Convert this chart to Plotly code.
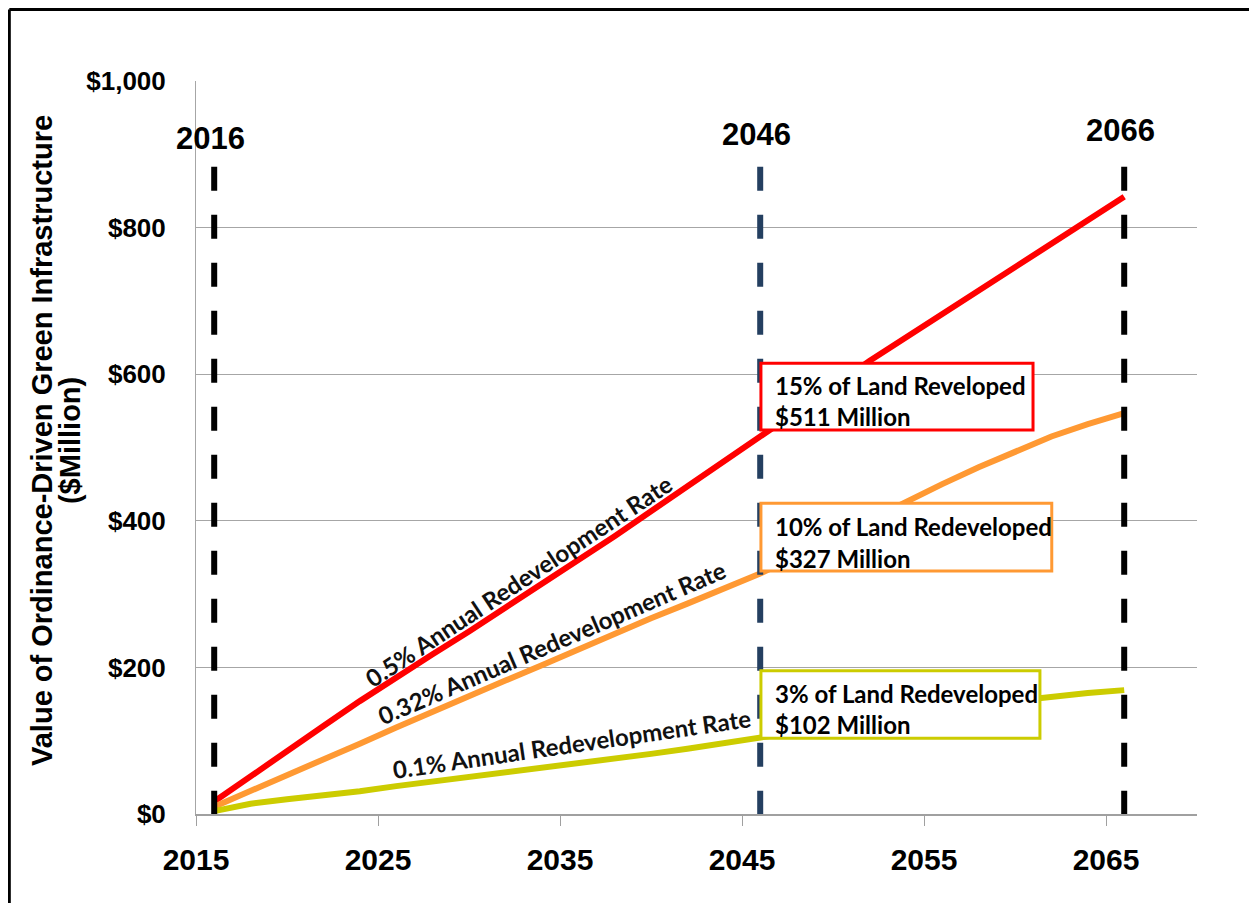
import plotly.graph_objects as go

# Values ($ million by year)
years = [2016, 2018, 2020, 2022, 2024, 2026, 2028, 2030, 2032, 2034, 2036, 2038, 2040,
         2042, 2044, 2046, 2048, 2050, 2052, 2054, 2056, 2058, 2060, 2062, 2064, 2066]
rate_05 = [17, 52, 86, 120, 154, 187, 218, 249, 281, 313, 345, 379, 413,
           447, 480, 513, 548, 583, 618, 650, 683, 716, 748, 780, 812, 842]
rate_032 = [10, 31, 53, 75, 96, 118, 140, 161, 182, 203, 225, 246, 267,
            287, 308, 328, 352, 377, 402, 426, 450, 473, 495, 515, 532, 547]
rate_01 = [4, 14, 20, 25, 31, 38, 44, 51, 56, 62, 69, 75, 82,
           89, 96, 104, 112, 120, 128, 135, 142, 149, 155, 160, 165, 169]

series_names = ["0.5% Annual Redevelopment Rate",
                "0.32% Annual Redevelopment Rate",
                "0.1% Annual Redevelopment Rate"]
series_colors = ["#FF0000", "#FF9933", "#CCCC00"]

marker_years = [2016, 2046, 2066]
marker_labels = ["2016", "2046", "2066"]
marker_colors = ["#000000", "#243F60", "#000000"]

box_titles = ["15% of Land Reveloped", "10% of Land Redeveloped", "3% of Land Redeveloped"]
box_values = ["$511 Million", "$327 Million", "$102 Million"]

x_ticks = [2015, 2025, 2035, 2045, 2055, 2065]
y_ticks = [0, 200, 400, 600, 800, 1000]
y_tick_labels = ["$0", "$200", "$400", "$600", "$800", "$1,000"]

ARIAL = "Liberation Sans, Arial, sans-serif"
CAL = "Lato, Carlito, Calibri, sans-serif"

fig = go.Figure()
for vals, name, col in zip([rate_05, rate_032, rate_01], series_names, series_colors):
    fig.add_trace(go.Scatter(x=years, y=vals, mode="lines", name=name,
                             line=dict(color=col, width=6)))

# dashed year markers
for yr, col in zip(marker_years, marker_colors):
    fig.add_shape(type="line", x0=yr, x1=yr, y0=883, y1=0, xref="x", yref="y",
                  line=dict(color=col, width=6, dash="24px,24px"))

label_y = {2016: 922, 2046: 927, 2066: 932}
for yr, lab in zip(marker_years, marker_labels):
    fig.add_annotation(x=yr, y=label_y[yr], xref="x", yref="y", text=lab, showarrow=False,
                       xshift=-4, font=dict(family=ARIAL, size=31, color="black", weight="bold"))

# text along the lines
rot = [(2032.75, 318, -33.5), (2034.55, 234, -23.3), (2035.65, 96, -8.3)]
for name, (x, y, ang) in zip(series_names, rot):
    fig.add_annotation(x=x, y=y, xref="x", yref="y", text=name, showarrow=False,
                       textangle=ang, font=dict(family=CAL, size=24, color="#111111", weight="bold"))

# boxed call-outs at 2046
boxes = [(2060.99, 615, 524), (2062.02, 424, 331.5), (2061.37, 195.5, 103.3)]
line_y = [(585, 542), (392, 349), (165, 121.5)]
for t, v, col, (xr, yt, yb), (y1, y2) in zip(box_titles, box_values, series_colors, boxes, line_y):
    fig.add_shape(type="rect", x0=2046.04, x1=xr, y0=yb, y1=yt, xref="x", yref="y",
                  line=dict(color=col, width=3), fillcolor="white", layer="above")
    for txt, yy in ((t, y1), (v, y2)):
        fig.add_annotation(x=2046.04, y=yy, xref="x", yref="y", xanchor="left", yanchor="middle",
                           xshift=12, text=txt, showarrow=False,
                           font=dict(family=CAL, size=24, color="black", weight="bold"))

# y axis title (two lines)
fig.add_annotation(x=-0.154, y=0.51, xref="paper", yref="paper", xanchor="center", yanchor="middle",
                   text="Value of Ordinance-Driven Green Infrastructure",
                   textangle=-90, showarrow=False, font=dict(family=ARIAL, size=29, color="black", weight="bold"))
fig.add_annotation(x=-0.126, y=0.51, xref="paper", yref="paper", xanchor="center", yanchor="middle",
                   text="($Million)",
                   textangle=-90, showarrow=False, font=dict(family=ARIAL, size=29, color="black", weight="bold"))

# outer frame
fig.add_shape(type="line", xref="paper", yref="paper", x0=-0.1865, x1=1.07, y0=1.0975, y1=1.0975,
              line=dict(color="black", width=3))
fig.add_shape(type="line", xref="paper", yref="paper", x0=-0.1865, x1=-0.1865, y0=1.0975, y1=-0.13,
              line=dict(color="black", width=3))

fig.update_layout(
    width=1241, height=895,
    margin=dict(l=188, r=52, t=73, b=89),
    paper_bgcolor="white", plot_bgcolor="white",
    showlegend=False,
    xaxis=dict(range=[2015, 2070], tickvals=x_ticks, ticks="outside", ticklen=10,
               tickcolor="#A0A0A0", showline=True, linecolor="#A0A0A0", linewidth=1.5,
               showgrid=False, zeroline=False, ticklabelstandoff=8,
               tickfont=dict(family=ARIAL, size=30, color="black", weight="bold")),
    yaxis=dict(range=[0, 1000], tickvals=y_ticks, ticktext=y_tick_labels,
               showgrid=True, gridcolor="#A6A6A6", gridwidth=1, showline=True,
               linecolor="#A6A6A6", zeroline=False, ticks="", ticklabelstandoff=24,
               tickfont=dict(family=ARIAL, size=26, color="black", weight="bold")),
)

fig.write_html("out.html")
